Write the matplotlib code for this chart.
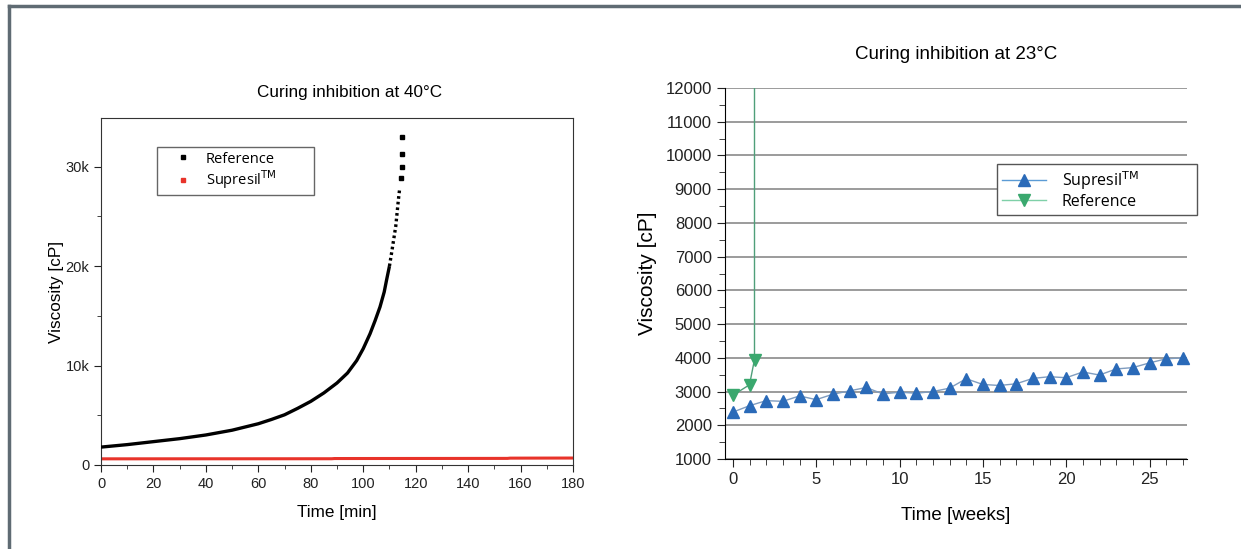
import matplotlib
matplotlib.use("Agg")
import matplotlib.pyplot as plt
from matplotlib.ticker import MultipleLocator, FuncFormatter
from matplotlib.lines import Line2D

plt.rcParams['font.family'] = ['Liberation Sans', 'DejaVu Sans']

# ---- left chart: curing at 40 C (time in min, viscosity in cP)
ref_t = [0, 10, 20, 30, 40, 50, 60, 65, 70, 75, 80, 85, 90, 94, 97.5,
         100, 102.6, 104.5, 106.4, 108, 108.9, 110]
ref_v = [1800, 2050, 2350, 2650, 3020, 3500, 4150, 4580, 5050, 5700, 6400,
         7250, 8250, 9250, 10500, 11700, 13200, 14500, 15900, 17400, 18600,
         20000]
# sparse dotted part near gel point
ref_dot_t = [110, 110.8, 112.4, 113.4, 113.9]
ref_dot_v = [20000, 21300, 24000, 26650, 27800]
ref_tail_t = [114.5, 114.7, 114.8, 114.9]
ref_tail_v = [28840, 30000, 31250, 32970]
sup_t = [0, 45, 88, 89, 135, 155, 156, 180]
sup_v = [620, 625, 630, 650, 660, 665, 690, 700]

# ---- right chart: curing at 23 C (time in weeks)
weeks = list(range(28))
sup_weeks_v = [2390, 2580, 2730, 2710, 2870, 2760, 2920, 3020, 3120, 2930,
               2980, 2950, 3000, 3100, 3380, 3210, 3180, 3230, 3390, 3440,
               3410, 3580, 3490, 3670, 3710, 3850, 3970, 4000]
ref_weeks = [0, 1, 1.3, 1.3]
ref_weeks_v = [2890, 3200, 3950, 33000]

W, H = 1241, 549
fig = plt.figure(figsize=(W / 100, H / 100), dpi=100)


def box(l, r, t, b):
    return [l / W, (H - b) / H, (r - l) / W, (b - t) / H]


# page border (grey frame top + left)
fig.add_artist(Line2D([9 / W, 1], [1 - 6 / H, 1 - 6 / H], color='#5f6b73', lw=2.5))
fig.add_artist(Line2D([9 / W, 9 / W], [0, 1 - 6 / H], color='#5f6b73', lw=2.5))

# ---------------- left
ax1 = fig.add_axes(box(101, 573, 118, 465))
ax1.plot(ref_t, ref_v, color='black', lw=2.4, solid_capstyle='butt', zorder=3)
ax1.plot(ref_dot_t, ref_dot_v, color='black', lw=2.4, ls=(0, (0.8, 0.9)), zorder=3)
ax1.plot(ref_tail_t, ref_tail_v, ls='none', color='black', marker='s', ms=2.2, zorder=3)
ax1.plot(sup_t, sup_v, color='#e8332a', lw=2.2, zorder=2)
ax1.set_xlim(0, 180)
ax1.set_ylim(0, 34900)
ax1.xaxis.set_major_locator(MultipleLocator(20))
ax1.xaxis.set_minor_locator(MultipleLocator(10))
ax1.yaxis.set_major_locator(MultipleLocator(10000))
ax1.yaxis.set_minor_locator(MultipleLocator(5000))
ax1.yaxis.set_major_formatter(FuncFormatter(lambda v, p: '0' if v == 0 else f'{int(v / 1000)}k'))
ax1.tick_params(which='both', top=False, right=False, direction='out', labelsize=10.5, colors='#222222')
ax1.tick_params(which='major', length=5)
ax1.tick_params(which='minor', length=3)
for s in ax1.spines.values():
    s.set_color('#333333')
ax1.set_title('Curing inhibition at 40°C', fontsize=12.3, pad=15, x=0.527)
ax1.set_xlabel('Time [min]', fontsize=12.3, labelpad=10)
ax1.set_ylabel('Viscosity [cP]', fontsize=12.3, labelpad=1)
h1 = [Line2D([], [], ls='none', marker='s', ms=2.6, color='black'),
      Line2D([], [], ls='none', marker='s', ms=2.6, color='#e8332a')]
ax1.legend(h1, ['Reference', 'Supresil$^{\\mathrm{TM}}$'], loc='upper left',
           bbox_to_anchor=(0.119, 0.916, 0.332, 0.0), mode='expand',
           borderaxespad=0, fancybox=False,
           edgecolor='#666666', framealpha=1, handlelength=2.9,
           handletextpad=0.15, borderpad=0.3, labelspacing=0.1,
           prop={'family': ['Open Sans', 'DejaVu Sans'], 'size': 10.5})

# ---------------- right
ax2 = fig.add_axes(box(725, 1187, 88, 459))
ax2.plot(weeks, sup_weeks_v, color='#7f9cbf', lw=1, marker='^', ms=8.5,
         mfc='#2a6ab8', mec='#2a6ab8', zorder=3, clip_on=False)
ax2.plot(ref_weeks, ref_weeks_v, color='#4f9f7a', lw=1, marker='v', ms=8.5,
         mfc='#3aa86e', mec='#3aa86e', zorder=3)
ax2.set_xlim(-0.47, 27.25)
ax2.set_ylim(1000, 12000)
ax2.xaxis.set_major_locator(MultipleLocator(5))
ax2.xaxis.set_minor_locator(MultipleLocator(1))
ax2.yaxis.set_major_locator(MultipleLocator(1000))
ax2.yaxis.set_minor_locator(MultipleLocator(500))
ax2.yaxis.grid(True, color='#8a8a8a', lw=1.2)
ax2.set_axisbelow(True)
ax2.spines['top'].set_visible(False)
ax2.spines['right'].set_visible(False)
ax2.tick_params(which='both', direction='out', labelsize=12, colors='#222222')
ax2.tick_params(which='major', length=6)
ax2.tick_params(which='minor', length=4)
ax2.set_title('Curing inhibition at 23°C', fontsize=13.5, pad=21)
ax2.set_xlabel('Time [weeks]', fontsize=13.5, labelpad=14)
ax2.set_ylabel('Viscosity [cP]', fontsize=15, labelpad=6)
h2 = [Line2D([], [], color='#5b9bd5', lw=1, marker='^', ms=8.5, mfc='#2a6ab8', mec='#2a6ab8'),
      Line2D([], [], color='#7fd0a8', lw=1, marker='v', ms=8.5, mfc='#3aa86e', mec='#3aa86e')]
ax2.legend(h2, ['Supresil$^{\\mathrm{TM}}$', 'Reference'], loc='upper left',
           bbox_to_anchor=(0.589, 0.795, 0.433, 0.0), mode='expand',
           borderaxespad=0, fancybox=False,
           edgecolor='#555555', framealpha=1, handlelength=2.75,
           handletextpad=1.0, borderpad=0.3, labelspacing=0.15,
           prop={'family': ['Open Sans', 'DejaVu Sans'], 'size': 11.5})

fig.canvas.draw()
ax2.get_ygridlines()[-1].set_visible(False)

fig.savefig('out.png', dpi=100)
